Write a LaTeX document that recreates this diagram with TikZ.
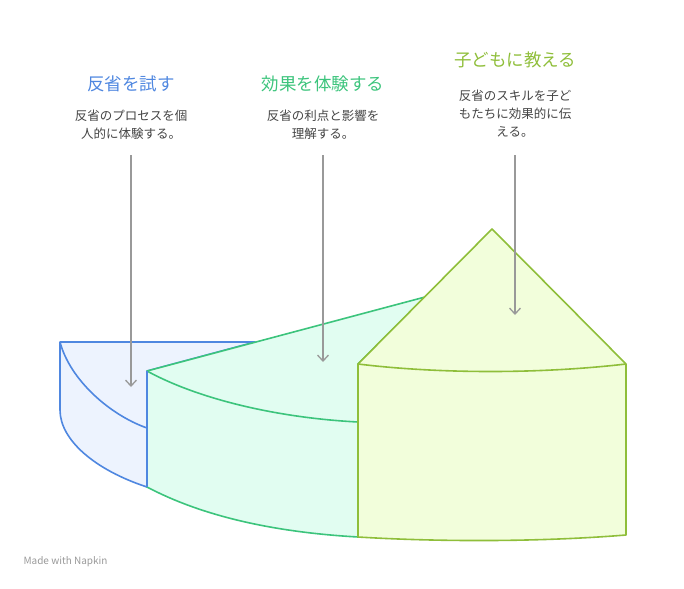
\documentclass[tikz,border=0pt]{standalone}
\usepackage{fontspec}
\setmainfont{Noto Sans CJK JP}
\usetikzlibrary{arrows.meta}
\definecolor{blueline}{HTML}{4F87E0}
\definecolor{bluefill}{HTML}{EDF3FE}
\definecolor{greenline}{HTML}{3CC47C}
\definecolor{greenfill}{HTML}{E1FDF1}
\definecolor{yellowline}{HTML}{8FBE3A}
\definecolor{yellowfill}{HTML}{F2FEDB}
\definecolor{arrowgray}{HTML}{999999}
\definecolor{textgray}{HTML}{444444}
\tikzset{
  part/.style={line width=1.6pt, line join=round},
  title/.style={font=\fontsize{17.5}{20}\selectfont},
  desc/.style={font=\fontsize{12.5}{18}\selectfont, text=textgray, align=center},
  pointer/.style={arrowgray, line width=1.3pt, -{Straight Barb[length=6pt,width=11pt]}}
}
\begin{document}
\begin{tikzpicture}[x=1pt,y=-1pt]
\useasboundingbox (0,0) rectangle (684,588);

% blue piece
\draw[part, blueline, fill=bluefill] (60,342) -- (255,342) -- (147,371) -- (147,487)
  .. controls (95,470) and (60,440) .. (60,410) -- cycle;
\draw[part, blueline] (60,342) .. controls (70,380) and (110,415) .. (147,428);

% green piece
\draw[part, greenline, fill=greenfill] (147,371) -- (425,297) -- (358,364) -- (358,537)
  .. controls (270,532) and (200,515) .. (147,487) -- cycle;
\draw[part, greenline] (147,371) .. controls (200,400) and (280,418) .. (358,422);
\draw[part, blueline] (147,371) -- (147,487);

% yellow piece
\draw[part, yellowline, fill=yellowfill] (358,364) -- (492,229) -- (626,364) -- (626,535)
  .. controls (540,542) and (440,542) .. (358,537) -- cycle;
\draw[part, yellowline] (358,364) .. controls (440,374) and (540,374) .. (626,364);

% titles and texts
\node[title, text=blueline] (t1) at (131,84) {反省を試す};
\node[title, text=greenline] (t2) at (323,84) {効果を体験する};
\node[title, text=yellowline] (t3) at (515,60) {子どもに教える};
\node[desc] (d1) at (131,125) {反省のプロセスを個\\人的に体験する。};
\node[desc] (d2) at (323,125) {反省の利点と影響を\\理解する。};
\node[desc] (d3) at (515,114) {反省のスキルを子ど\\もたちに効果的に伝\\える。};

% pointers
\coordinate (e1) at (131,387);
\coordinate (e2) at (323,362);
\coordinate (e3) at (515,315);
\draw[pointer] (131,155) -- (e1);
\draw[pointer] (323,155) -- (e2);
\draw[pointer] (515,155) -- (e3);

\node[font=\fontsize{10}{12}\selectfont, text=arrowgray, anchor=west] (mark) at (20,562) {Made with Napkin};
\end{tikzpicture}
\end{document}
